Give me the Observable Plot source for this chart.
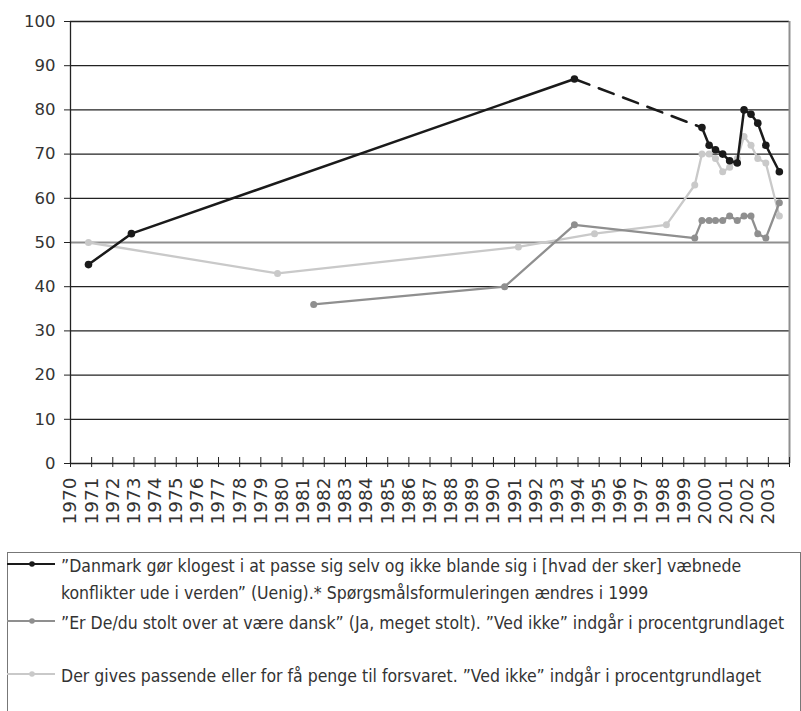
<!DOCTYPE html>
<html>
<head>
<meta charset="utf-8">
<script src="https://cdn.jsdelivr.net/npm/d3@7"></script>
<script src="https://cdn.jsdelivr.net/npm/@observablehq/plot@0.6"></script>
<style>
  body { margin: 0; background: white; }
  #legend { position: relative; margin-left: 7px; width: 794px; height: 170px; border: 1px solid #777; box-sizing: border-box;
    font-family: "DejaVu Sans Condensed", "DejaVu Sans", sans-serif; font-size: 17.5px; color: #333; }
  .entry { position: absolute; left: 0; line-height: 27px; }
  .entry svg { position: absolute; left: -1px; top: 0; }
  .entry .txt { position: absolute; left: 53px; top: 0; white-space: nowrap; }
</style>
</head>
<body>
<div id="chart"></div>
<div id="legend"></div>
<script>
// Series 1: "Danmark gør klogest ..." (Uenig) — black
const blackYears = [1970.85, 1972.88, 1993.83, 1999.86, 2000.2, 2000.5, 2000.84, 2001.17, 2001.53, 2001.85, 2002.18, 2002.5, 2002.88, 2003.52];
const blackValues = [45, 52, 87, 76, 72, 71, 70, 68.5, 68, 80, 79, 77, 72, 66];
// Series 2: "Er De/du stolt over at være dansk" — mid gray
const grayYears = [1981.5, 1990.53, 1993.83, 1999.52, 1999.86, 2000.2, 2000.5, 2000.84, 2001.17, 2001.53, 2001.85, 2002.18, 2002.5, 2002.88, 2003.52];
const grayValues = [36, 40, 54, 51, 55, 55, 55, 55, 56, 55, 56, 56, 52, 51, 59];
// Series 3: "Der gives passende eller for få penge til forsvaret" — light gray
const lightYears = [1970.85, 1979.79, 1991.18, 1994.78, 1998.18, 1999.52, 1999.86, 2000.2, 2000.5, 2000.84, 2001.17, 2001.53, 2001.85, 2002.18, 2002.5, 2002.88, 2003.52];
const lightValues = [50, 43, 49, 52, 54, 63, 70, 70, 69, 66, 67, 69, 74, 72, 69, 68, 56];

const xTicks = d3.range(1970, 2005);
const yTicks = d3.range(0, 101, 10);

const legendLabels = [
  "”Danmark gør klogest i at passe sig selv og ikke blande sig i [hvad der sker] væbnede<br>konflikter ude i verden” (Uenig).* Spørgsmålsformuleringen ændres i 1999",
  "”Er De/du stolt over at være dansk” (Ja, meget stolt). ”Ved ikke” indgår i procentgrundlaget",
  "Der gives passende eller for få penge til forsvaret. ”Ved ikke” indgår i procentgrundlaget"
];

const C_BLACK = "#1a1a1a", C_GRAY = "#8f8f8f", C_LIGHT = "#c9c9c9";

const toRows = (ys, vs) => ys.map((y, i) => ({year: y, value: vs[i]}));
const black = toRows(blackYears, blackValues);
const gray = toRows(grayYears, grayValues);
const light = toRows(lightYears, lightValues);
const blackA = black.slice(0, 3);
const blackDash = black.slice(2, 4);
const blackB = black.slice(3);

const chart = Plot.plot({
  width: 801, height: 552,
  marginLeft: 70, marginRight: 12, marginTop: 21, marginBottom: 89,
  x: {domain: [1970, 2004]},
  y: {domain: [0, 100]},
  style: {fontFamily: "DejaVu Sans, sans-serif", fontSize: "18.5px", color: "#333", background: "white"},
  marks: [
    Plot.ruleY(yTicks.filter(d => d !== 50), {stroke: "#222", strokeWidth: 1.3}),
    Plot.ruleY([50], {stroke: "#8f8f8f", strokeWidth: 1.8}),
    Plot.ruleX([1970], {stroke: "#222", strokeWidth: 1.3}),
    Plot.ruleX([2004], {stroke: "#8f8f8f", strokeWidth: 2}),
    Plot.axisY({ticks: yTicks, tickSize: 6, tickPadding: 9, label: null, stroke: "#222"}),
    Plot.axisX({ticks: xTicks, tickSize: 10, dy: -6, tickPadding: 10, tickRotate: -90,
      tickFormat: d => d === 2004 ? "" : String(d), label: null, stroke: "#222"}),
    Plot.line(light, {x: "year", y: "value", stroke: C_LIGHT, strokeWidth: 2.3}),
    Plot.dot(light, {x: "year", y: "value", r: 3.5, fill: C_LIGHT}),
    Plot.line(gray, {x: "year", y: "value", stroke: C_GRAY, strokeWidth: 2.3}),
    Plot.dot(gray, {x: "year", y: "value", r: 3.5, fill: C_GRAY}),
    Plot.line(blackA, {x: "year", y: "value", stroke: C_BLACK, strokeWidth: 2.5}),
    Plot.line(blackDash, {x: "year", y: "value", stroke: C_BLACK, strokeWidth: 2.5, strokeDasharray: "16,10"}),
    Plot.line(blackB, {x: "year", y: "value", stroke: C_BLACK, strokeWidth: 2.5}),
    Plot.dot(black, {x: "year", y: "value", r: 3.8, fill: C_BLACK})
  ]
});
// y tick labels slightly smaller than the rotated x tick labels
d3.select(chart).selectAll('g[aria-label="y-axis tick label"]').attr("font-size", "16.5px").style("font-size", "16.5px");
document.getElementById("chart").appendChild(chart);

const legend = document.getElementById("legend");
const tops = [0, 57, 110];
const colors = [C_BLACK, C_GRAY, C_LIGHT];
legendLabels.forEach((lab, i) => {
  const e = document.createElement("div");
  e.className = "entry";
  e.style.top = tops[i] + "px";
  e.innerHTML = `<svg width="50" height="27"><line x1="0" x2="48" y1="11" y2="11" stroke="${colors[i]}" stroke-width="2.2"/><circle cx="25" cy="11" r="2.8" fill="${colors[i]}"/></svg><span class="txt">${lab}</span>`;
  legend.appendChild(e);
});
</script>
</body>
</html>
